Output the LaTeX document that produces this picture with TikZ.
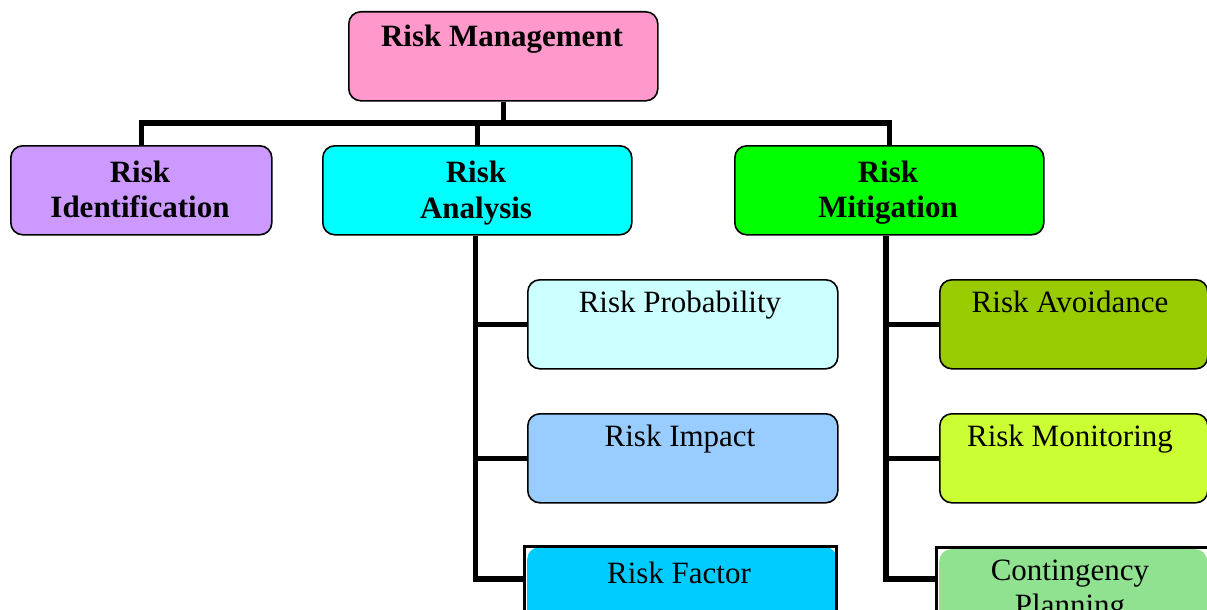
\documentclass[tikz,border=0pt]{standalone}
\usepackage{fontspec}
\setmainfont{Liberation Serif}
\definecolor{cRM}{HTML}{FF99CC}
\definecolor{cRI}{HTML}{CC99FF}
\definecolor{cRA}{HTML}{00FFFF}
\definecolor{cRMit}{HTML}{00FF00}
\definecolor{cRP}{HTML}{CCFFFF}
\definecolor{cRImp}{HTML}{99CCFF}
\definecolor{cRF}{HTML}{00CCFF}
\definecolor{cRAv}{HTML}{99CC00}
\definecolor{cRMon}{HTML}{CCFF33}
\definecolor{cCP}{HTML}{90E190}
\tikzset{
  box/.style={draw=black, line width=1.6pt, rounded corners=12pt, inner sep=0pt,
    minimum width=309pt, minimum height=89pt, anchor=north west},
  fillbox/.style={rounded corners=12pt, inner sep=0pt, anchor=north west},
  frame/.style={draw=black, line width=3pt, inner sep=0pt, anchor=north west},
  conn/.style={draw=black, line width=5.5pt},
  lbl/.style={anchor=base, inner sep=0pt, font=\fontsize{31}{36}\selectfont},
  lblb/.style={lbl, font=\fontsize{31}{36}\selectfont\bfseries},
}
\begin{document}
\begin{tikzpicture}[x=1pt,y=-1pt]
\useasboundingbox (0,0) rectangle (1207,610);
\clip (0,0) rectangle (1207,610);
% boxes
\node[box, fill=cRM] (RM) at (348,11) {};
\node[box, fill=cRI, minimum width=261pt] (RI) at (10,145) {};
\node[box, fill=cRA] (RA) at (322,145) {};
\node[box, fill=cRMit] (RMit) at (734,145) {};
\node[box, fill=cRP, minimum width=310pt] (RP) at (527,279) {};
\node[box, fill=cRImp, minimum width=310pt] (RImp) at (527,413) {};
\node[fillbox, fill=cRF, minimum width=310pt, minimum height=89pt] (RF) at (527,547) {};
\node[frame, minimum width=312pt, minimum height=89pt] (RFframe) at (523,545) {};
\node[box, fill=cRAv, minimum width=268pt] (RAv) at (939,279) {};
\node[box, fill=cRMon, minimum width=268pt] (RMon) at (939,413) {};
\node[fillbox, fill=cCP, minimum width=268pt, minimum height=89pt] (CP) at (939,549) {};
\node[frame, minimum width=275pt, minimum height=89pt] (CPframe) at (935,546) {};
% labels
\node[lblb] (tRM) at (502,47) {Risk Management};
\node[lblb] (tRI1) at (140,182) {Risk};
\node[lblb] (tRI2) at (140,217) {Identification};
\node[lblb] (tRA1) at (476,182) {Risk};
\node[lblb] (tRA2) at (476,218) {Analysis};
\node[lblb] (tRMit1) at (888,182) {Risk};
\node[lblb] (tRMit2) at (888,217) {Mitigation};
\node[lbl] (tRP) at (680,312) {Risk Probability};
\node[lbl] (tRImp) at (680,446) {Risk Impact};
\node[lbl] (tRF) at (679,583) {Risk Factor};
\node[lbl] (tRAv) at (1070,312) {Risk Avoidance};
\node[lbl] (tRMon) at (1070,446) {Risk Monitoring};
\node[lbl] (tCP1) at (1070,580) {Contingency};
\node[lbl] (tCP2) at (1070,615) {Planning};
% connectors
\coordinate (hy) at (0,123);
\coordinate (by) at (0,579);
\draw[conn] (RM.south) -- (RM.south |- hy);
\draw[conn] (RI.north) -- (RI.north |- hy) -- (RMit.north |- hy) -- (RMit.north);
\draw[conn] (RA.north) -- (RA.north |- hy);
\coordinate (ta) at ([xshift=-2pt]RA.south);
\draw[conn] (ta) -- (ta |- by) -- (RFframe.west |- by);
\draw[conn] (ta |- RP.west) -- (RP.west);
\draw[conn] (ta |- RImp.west) -- (RImp.west);
\coordinate (tm) at ([xshift=-3.5pt]RMit.south);
\draw[conn] (tm) -- (tm |- by) -- (CPframe.west |- by);
\draw[conn] (tm |- RAv.west) -- (RAv.west);
\draw[conn] (tm |- RMon.west) -- (RMon.west);
\end{tikzpicture}
\end{document}
